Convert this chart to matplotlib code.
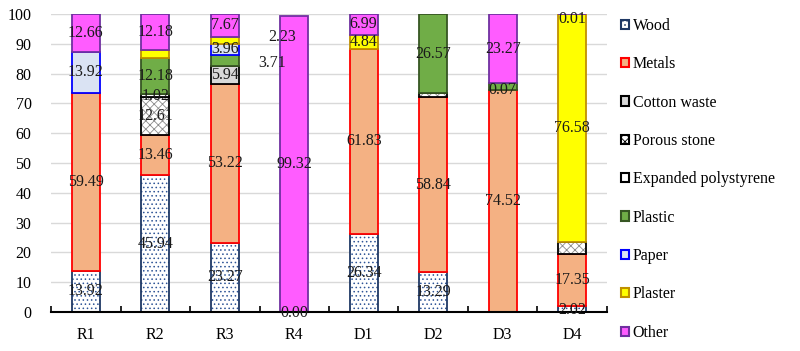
import numpy as np
import matplotlib
matplotlib.use("Agg")
import matplotlib.pyplot as plt
from matplotlib.patches import Patch

plt.rcParams["font.family"] = ["Liberation Serif", "DejaVu Serif"]
plt.rcParams["hatch.linewidth"] = 0.6

sites = ["R1", "R2", "R3", "R4", "D1", "D2", "D3", "D4"]
series = ["Wood", "Metals", "Cotton waste", "Porous stone", "Expanded polystyrene",
          "Plastic", "Paper", "Plaster", "Other"]

# % composition per site, bottom to top
wood     = [13.92, 45.94, 23.27, 0.00, 26.34, 13.29, 0.00, 2.02]
metals   = [59.49, 13.46, 53.22, 0.00, 61.83, 58.84, 74.52, 17.35]
cotton   = [0.00, 0.00, 5.94, 0.00, 0.00, 0.00, 0.00, 0.00]
porous   = [0.00, 12.61, 0.00, 0.00, 0.00, 1.30, 0.00, 4.04]
eps      = [0.00, 1.02, 0.00, 0.00, 0.00, 0.00, 0.00, 0.00]
plastic  = [0.00, 12.18, 3.71, 0.00, 0.00, 26.57, 2.21, 0.00]
paper    = [13.92, 0.00, 3.96, 0.00, 0.00, 0.00, 0.00, 0.00]
plaster  = [0.00, 2.61, 2.23, 0.00, 4.84, 0.00, 0.00, 76.58]
other    = [12.66, 12.18, 7.67, 99.32, 6.99, 0.00, 23.27, 0.01]

# printed labels (None = no label on that segment)
lab_wood    = ["13.92", "45.94", "23.27", "0.00", "26.34", "13.29", None, "2.02"]
lab_metals  = ["59.49", "13.46", "53.22", None, "61.83", "58.84", "74.52", "17.35"]
lab_cotton  = [None, None, "5.94", None, None, None, None, None]
lab_porous  = [None, "12.61", None, None, None, None, None, None]
lab_eps     = [None, "1.02", None, None, None, None, None, None]
lab_plastic = [None, "12.18", "3.71", None, None, "26.57", "0.07", None]
lab_paper   = ["13.92", None, "3.96", None, None, None, None, None]
lab_plaster = [None, None, "2.23", None, "4.84", None, None, "76.58"]
lab_other   = ["12.66", "12.18", "7.67", "99.32", "6.99", None, "23.27", "0.01"]

data = [wood, metals, cotton, porous, eps, plastic, paper, plaster, other]
labels = [lab_wood, lab_metals, lab_cotton, lab_porous, lab_eps, lab_plastic,
          lab_paper, lab_plaster, lab_other]

styles = {
    "Wood":                 dict(fc="white", ec="#1f3864", hc="#2f5597", hatch="...."),
    "Metals":               dict(fc="#f4b183", ec="#ff0000", hc=None, hatch=None),
    "Cotton waste":         dict(fc="#d9d9d9", ec="#000000", hc=None, hatch=None),
    "Porous stone":         dict(fc="white", ec="#000000", hc="#8c8c8c", hatch="xxxx"),
    "Expanded polystyrene": dict(fc="white", ec="#000000", hc=None, hatch=None),
    "Plastic":              dict(fc="#70ad47", ec="#375623", hc=None, hatch=None),
    "Paper":                dict(fc="#dae3f3", ec="#0000ff", hc=None, hatch=None),
    "Plaster":              dict(fc="#ffff00", ec="#bf9000", hc=None, hatch=None),
    "Other":                dict(fc="#ff5cff", ec="#7030a0", hc=None, hatch=None),
}

# labels that sit off-centre in the original
moved = {("R3", "Plaster"): (2.82, 92.3), ("R3", "Plastic"): (2.68, 83.6),
         ("R4", "Wood"): (3.0, -0.2), ("D4", "Other"): (7.0, 98.4),
         ("D4", "Wood"): (7.0, 0.6), ("D3", "Plastic"): (6.0, 74.4)}

FS = 11.5
fig = plt.figure(figsize=(8, 3.51), dpi=100)
ax = fig.add_axes([51 / 800, 39 / 351, 556 / 800, 298 / 351])

x = np.arange(len(sites))
bottom = np.zeros(len(sites))
for name, vals, labs in zip(series, data, labels):
    st = styles[name]
    vals = np.array(vals)
    m = vals > 0
    if st["hatch"]:
        # hatch drawn in its own colour, outline drawn on top
        ax.bar(x[m], vals[m], bottom=bottom[m], width=0.4, color=st["fc"],
               edgecolor=st["hc"], hatch=st["hatch"], linewidth=0, zorder=3)
        ax.bar(x[m], vals[m], bottom=bottom[m], width=0.4, fill=False,
               edgecolor=st["ec"], linewidth=1.3, zorder=3)
    else:
        ax.bar(x[m], vals[m], bottom=bottom[m], width=0.4, color=st["fc"],
               edgecolor=st["ec"], linewidth=1.3, zorder=3)
    for i, lab in enumerate(labs):
        if lab is None:
            continue
        xx, yy = moved.get((sites[i], name), (x[i], bottom[i] + vals[i] / 2))
        ax.text(xx, yy, lab, ha="center", va="center", fontsize=FS,
                color="#1a1a1a", zorder=5)
    bottom += vals

ax.set_xlim(-0.5, len(sites) - 0.5)
ax.set_ylim(0, 100)
ax.set_yticks(np.arange(0, 101, 10))
ax.set_xticks(x)
ax.set_xticklabels(sites)
ax.set_xticks(np.arange(len(sites) + 1) - 0.5, minor=True)
ax.tick_params(axis="x", which="major", length=0, pad=11, labelsize=FS)
ax.tick_params(axis="x", which="minor", length=4, width=1.2, direction="in")
ax.tick_params(axis="y", length=0, pad=14, labelsize=FS)
ax.grid(axis="y", color="#d9d9d9", linewidth=1.0, zorder=0)
for s in ["left", "right", "top"]:
    ax.spines[s].set_visible(False)
ax.spines["bottom"].set_linewidth(1.5)
ax.spines["bottom"].set_zorder(4)

handles = [Patch(facecolor=styles[n]["fc"], edgecolor=styles[n]["ec"],
                 hatch=styles[n]["hatch"], linewidth=1.5, label=n) for n in series]
fig.legend(handles=handles, loc="upper left", bbox_to_anchor=(0.776, 0.949),
           frameon=False, fontsize=FS, handlelength=0.5, handleheight=0.5,
           handletextpad=0.25, labelspacing=1.4, borderaxespad=0, borderpad=0)

fig.savefig("out.png", dpi=100)
